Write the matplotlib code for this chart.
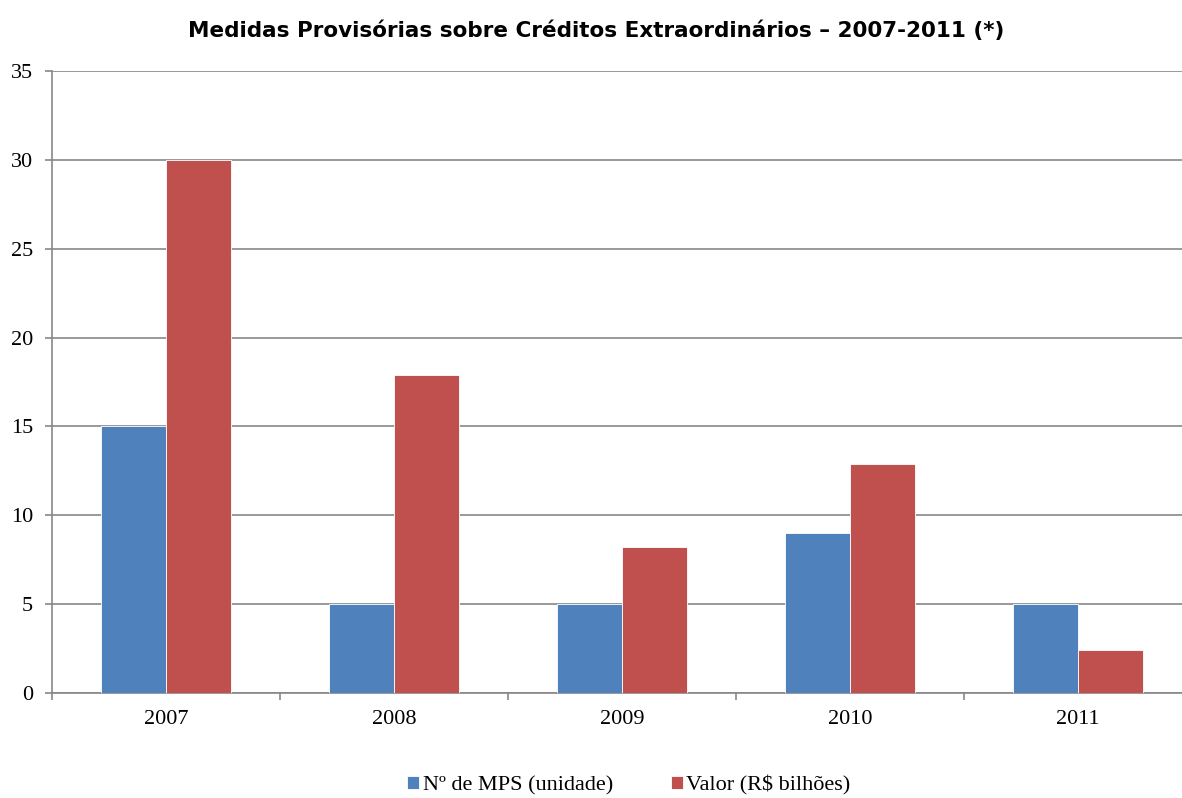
import numpy as np
import matplotlib.pyplot as plt

anos = ['2007', '2008', '2009', '2010', '2011']
num_mps = [15, 5, 5, 9, 5]
valor_bi = [30, 17.9, 8.2, 12.9, 2.4]

AZUL = '#4F81BD'
VERMELHO = '#C0504D'
CINZA = '#878787'
FONTE = 'Liberation Serif'
TAM = 16

fig = plt.figure(figsize=(11.82, 7.98), dpi=100)
ax = fig.add_axes([0.044, 0.1316, 0.9645, 0.7794])

x = np.arange(len(anos))
w = 0.285
ax.bar(x - w / 2, num_mps, w, color=AZUL, edgecolor='white', linewidth=0.6,
       label='Nº de MPS (unidade)', zorder=3)
ax.bar(x + w / 2, valor_bi, w, color=VERMELHO, edgecolor='white', linewidth=0.6,
       label='Valor (R$ bilhões)', zorder=3)

ax.set_xlim(-0.5, len(anos) - 0.5)
ax.set_ylim(0, 35)
ax.set_yticks(range(0, 36, 5))
ax.yaxis.grid(True, color=CINZA, linewidth=1.2, zorder=0)

# separadores entre os anos no eixo x
ax.set_xticks(np.arange(-0.5, len(anos), 1.0))
ax.set_xticklabels([])
ax.set_xticks(x, minor=True)
ax.set_xticklabels(anos, minor=True, fontfamily=FONTE, fontsize=TAM)
ax.tick_params(axis='x', which='major', length=5, color=CINZA, width=1.2)
ax.tick_params(axis='x', which='minor', length=0, pad=12)
ax.tick_params(axis='y', length=5, color=CINZA, width=1.2, pad=8.5)
for lbl in ax.get_yticklabels():
    lbl.set_fontfamily(FONTE)
    lbl.set_fontsize(TAM)

for lado in ['top', 'right']:
    ax.spines[lado].set_visible(False)
for lado in ['left', 'bottom']:
    ax.spines[lado].set_color(CINZA)
    ax.spines[lado].set_linewidth(1.2)

fig.text(0.504, 0.962, 'Medidas Provisórias sobre Créditos Extraordinários – 2007-2011 (*)',
         ha='center', va='center', fontsize=15.5, fontweight='bold', fontfamily='DejaVu Sans')

fig.legend(loc='center', bbox_to_anchor=(0.532, 0.016), ncol=2, frameon=False,
           prop={'family': FONTE, 'size': TAM},
           handlelength=0.55, handleheight=0.55, handletextpad=0.15, columnspacing=2.6,
           borderpad=0.1)

fig.savefig('out.png', dpi=100)
